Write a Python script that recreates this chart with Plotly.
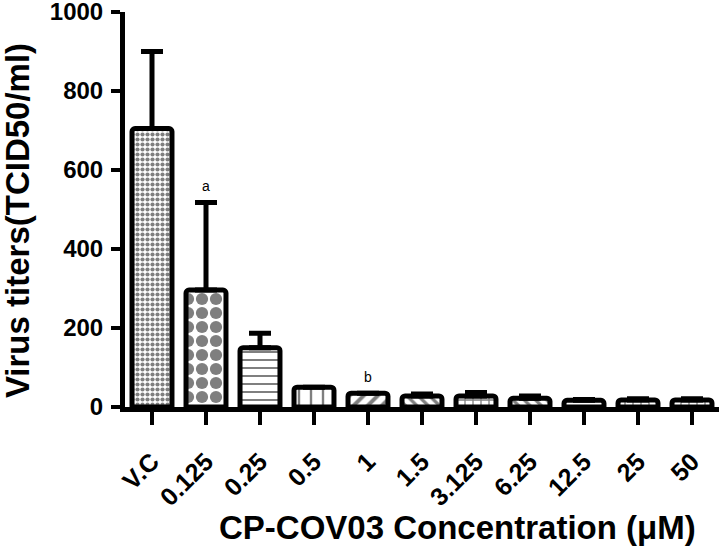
import plotly.graph_objects as go

categories = ["V.C", "0.125", "0.25", "0.5", "1", "1.5", "3.125", "6.25", "12.5", "25", "50"]
means = [705, 296, 150, 50, 35, 28, 28, 22, 17, 18, 18]
errors = [195, 222, 37, 0, 0, 5, 9, 6, 2, 3, 3]
patterns = [".", ".", "-", "|", "/", "\\", "+", "\\", "-", "+", "+"]
pattern_sizes = [5, 14, 8, 12, 10, 8, 8, 8, 8, 8, 8]
pattern_solid = [0.55, 0.6, 0.25, 0.2, 0.4, 0.4, 0.3, 0.4, 0.3, 0.3, 0.3]
annotations_txt = [("0.125", "a"), ("1", "b")]

font_family = "Liberation Sans, Arial, sans-serif"

fig = go.Figure()
fig.add_trace(go.Bar(
    x=categories, y=means,
    marker=dict(
        color="white",
        line=dict(color="black", width=5),
        pattern=dict(shape=patterns, size=pattern_sizes, solidity=pattern_solid,
                     fgcolor="black", bgcolor="white", fillmode="overlay"),
        cornerradius=3,
    ),
    error_y=dict(type="data", symmetric=False, array=errors,
                 arrayminus=[0] * len(errors), color="black", thickness=5, width=11),
    width=0.74,
))

anns = []
for cat, txt in annotations_txt:
    i = categories.index(cat)
    anns.append(dict(x=i, y=means[i] + errors[i], text=txt, showarrow=False,
                     yshift=16, font=dict(size=14, color="black", family=font_family)))

anns.append(dict(text="<b>CP-COV03 Concentration (μM)</b>", xref="paper", yref="paper",
                 x=0.559, y=-0.306, xanchor="center", yanchor="middle", showarrow=False,
                 font=dict(size=33, color="black", family=font_family)))
anns.append(dict(text="<b>Virus titers(TCID50/ml)</b>", xref="paper", yref="paper",
                 x=-0.182, y=0.473, xanchor="center", yanchor="middle", showarrow=False,
                 textangle=-90,
                 font=dict(size=33, color="black", family=font_family)))

fig.update_layout(
    width=722, height=550,
    margin=dict(l=125, r=3, t=12, b=143),
    paper_bgcolor="white", plot_bgcolor="white",
    showlegend=False,
    bargap=0.26,
    annotations=anns,
    font=dict(family=font_family, color="black"),
)
fig.update_xaxes(
    type="category", tickangle=-45, automargin=False,
    tickfont=dict(size=25, family="Liberation Sans, Arial", color="black", weight="bold"),
    showline=True, linecolor="black", linewidth=5,
    ticks="outside", ticklen=13, tickwidth=4, tickcolor="black",
    ticklabelstandoff=12,
    showgrid=False, zeroline=False,
)
fig.update_yaxes(
    range=[0, 1000], tickvals=[0, 200, 400, 600, 800, 1000], automargin=False,
    tickfont=dict(size=24, family="Liberation Sans, Arial", color="black", weight="bold"),
    showline=True, linecolor="black", linewidth=5,
    ticks="outside", ticklen=9, tickwidth=4, tickcolor="black",
    ticklabeloverflow="allow", ticklabelstandoff=3,
    showgrid=False, zeroline=False,
)

fig.write_html("out.html", config={"displayModeBar": False},
               post_script="document.body.style.margin='0px';")
